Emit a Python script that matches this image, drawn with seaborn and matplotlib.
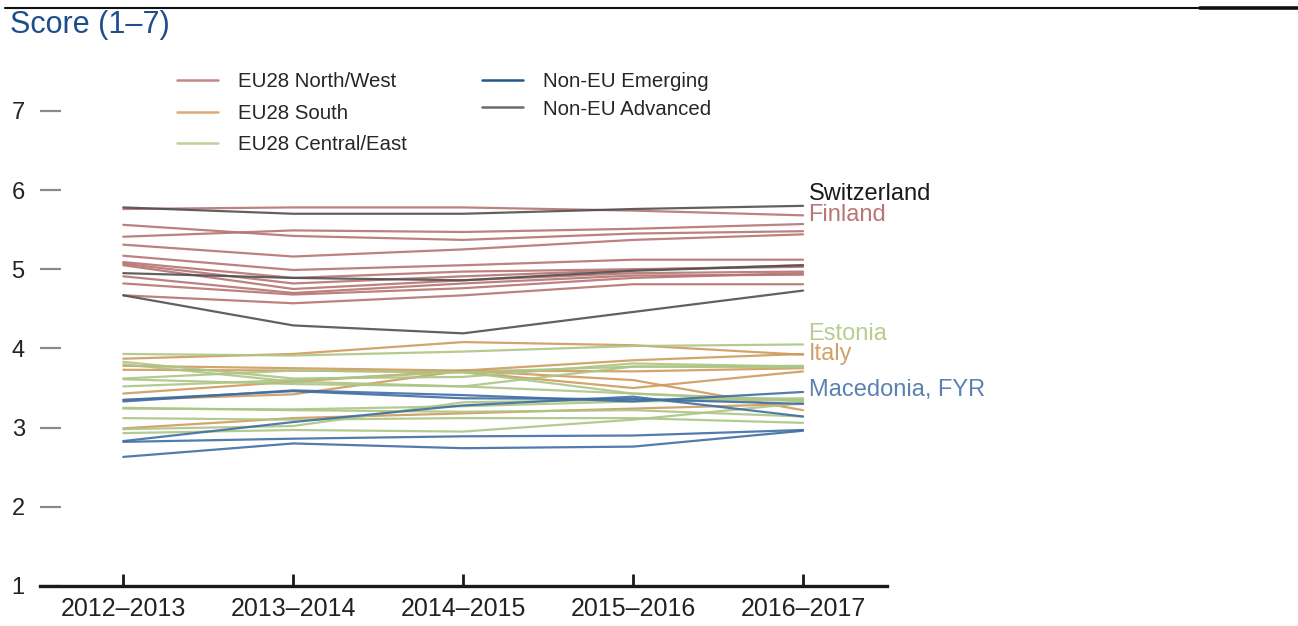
import pandas as pd
import numpy as np
import matplotlib
matplotlib.use("Agg")
import matplotlib.pyplot as plt
import seaborn as sns
from matplotlib.lines import Line2D

# periods on the x axis
periods = ["2012–2013", "2013–2014", "2014–2015", "2015–2016", "2016–2017"]

# scores, one row per country
nw_scores = [
    [5.76, 5.78, 5.78, 5.74, 5.68],   # Finland
    [5.56, 5.42, 5.37, 5.45, 5.48],
    [5.41, 5.49, 5.47, 5.51, 5.57],
    [5.31, 5.16, 5.25, 5.37, 5.44],
    [5.17, 4.99, 5.05, 5.12, 5.12],
    [5.09, 4.89, 4.97, 5.00, 5.03],
    [5.07, 4.82, 4.91, 4.99, 5.05],
    [5.05, 4.75, 4.86, 4.95, 4.97],
    [4.91, 4.70, 4.82, 4.92, 4.93],
    [4.82, 4.68, 4.76, 4.89, 4.95],
    [4.67, 4.57, 4.67, 4.81, 4.81],
]
south_scores = [
    [3.87, 3.93, 4.08, 4.04, 3.92],
    [3.43, 3.58, 3.72, 3.85, 3.93],   # Italy
    [3.78, 3.75, 3.72, 3.71, 3.75],
    [3.73, 3.72, 3.70, 3.50, 3.71],
    [3.35, 3.42, 3.72, 3.60, 3.22],
    [2.99, 3.12, 3.18, 3.24, 3.30],
]
ce_scores = [
    [3.93, 3.91, 3.96, 4.03, 4.05],   # Estonia
    [3.83, 3.62, 3.64, 3.81, 3.77],
    [3.80, 3.58, 3.52, 3.77, 3.76],
    [3.61, 3.55, 3.52, 3.43, 3.35],
    [3.52, 3.60, 3.70, 3.77, 3.78],
    [3.24, 3.23, 3.27, 3.33, 3.35],
    [3.12, 3.10, 3.12, 3.12, 3.06],
    [2.98, 3.02, 3.32, 3.35, 3.37],
    [2.93, 2.97, 2.95, 3.10, 3.31],
    [3.25, 3.22, 3.20, 3.22, 3.14],
    [3.62, 3.72, 3.70, 3.43, 3.33],
]
emerging_scores = [
    [3.33, 3.47, 3.41, 3.33, 3.45],   # Macedonia, FYR
    [3.35, 3.46, 3.37, 3.36, 3.30],
    [2.83, 3.07, 3.28, 3.39, 3.14],
    [2.82, 2.86, 2.89, 2.90, 2.97],
    [2.63, 2.80, 2.74, 2.76, 2.96],
]
advanced_scores = [
    [5.78, 5.70, 5.70, 5.76, 5.80],   # Switzerland
    [4.95, 4.89, 4.86, 4.98, 5.05],
    [4.67, 4.29, 4.19, 4.46, 4.73],
]

groups = ["EU28 North/West", "EU28 South", "EU28 Central/East",
          "Non-EU Emerging", "Non-EU Advanced"]
line_colors = ["#b57472", "#cf9a5c", "#adc585", "#3f6ea3", "#505050"]
legend_colors = ["#c08886", "#d8ab77", "#bcd29a", "#24578f", "#6b6b6b"]

# labelled countries: (name, group, row, y nudge, text colour)
labelled = [
    ("Switzerland", 4, 0, 0.15, "#1a1a1a"),
    ("Finland", 0, 0, 0.0, "#b87674"),
    ("Estonia", 2, 0, 0.13, "#b8cd8f"),
    ("Italy", 1, 1, 0.0, "#d3a06a"),
    ("Macedonia, FYR", 3, 0, 0.02, "#5b82b3"),
]

all_scores = [nw_scores, south_scores, ce_scores, emerging_scores, advanced_scores]
rows = []
for g, scores in zip(groups, all_scores):
    for i, s in enumerate(scores):
        for j, v in enumerate(s):
            rows.append({"group": g, "country": f"{g}-{i}", "x": j, "score": v})
df = pd.DataFrame(rows)

sns.set_style("white")
plt.rcParams["font.family"] = ["Liberation Sans", "DejaVu Sans"]

fig = plt.figure(figsize=(12.98, 6.26), dpi=100)
ax = fig.add_axes([40 / 1298, 40 / 626, 847 / 1298, 546 / 626])

sns.lineplot(data=df, x="x", y="score", hue="group", units="country",
             estimator=None, palette=dict(zip(groups, line_colors)),
             hue_order=groups, linewidth=1.6, alpha=0.9, legend=False, ax=ax)

ax.set_xlim(-0.49, 4.494)
ax.set_ylim(1, 7 + 546 / 79.2 - 6)
ax.set_xticks(range(len(periods)))
ax.set_xticklabels(periods, fontsize=18, color="#222222")
ax.set_yticks(range(1, 8))
ax.set_yticklabels([str(v) for v in range(1, 8)], fontsize=17, color="#222222")
ax.set_xlabel("")
ax.set_ylabel("")
for side in ["left", "right", "top"]:
    ax.spines[side].set_visible(False)
ax.spines["bottom"].set_linewidth(2.4)
ax.spines["bottom"].set_color("#1a1a1a")
ax.tick_params(axis="x", bottom=True, direction="in", length=9, width=2,
               color="#1a1a1a", pad=8)
ax.tick_params(axis="y", left=True, direction="in", length=15, width=1.6,
               color="#8a8a8a", pad=11)

# end labels
for name, gi, ri, nudge, col in labelled:
    y_end = all_scores[gi][ri][-1] + nudge
    ax.annotate(name, (4, y_end), xytext=(4, 0), textcoords="offset points",
                va="center", ha="left", fontsize=17, color=col)

# legend in two columns
h1 = [Line2D([], [], color=c, lw=1.8) for c in legend_colors[:3]]
leg1 = ax.legend(h1, groups[:3], loc="upper left", bbox_to_anchor=(0.14, 0.975),
                 frameon=False, fontsize=14.7, handlelength=2.0, handletextpad=1.0,
                 labelspacing=0.62)
ax.add_artist(leg1)
h2 = [Line2D([], [], color=c, lw=1.8) for c in legend_colors[3:]]
ax.legend(h2, groups[3:], loc="upper left", bbox_to_anchor=(0.5, 0.975),
          frameon=False, fontsize=14.7, handlelength=2.0, handletextpad=1.0,
          labelspacing=0.42)

fig.text(10 / 1298, 1 - 25 / 626, "Score (1–7)", fontsize=22,
         color="#1f4e8c", va="center", ha="left")
fig.add_artist(Line2D([5 / 1298, 1200 / 1298], [1 - 8 / 626] * 2, color="#111111", lw=1.5))
fig.add_artist(Line2D([1200 / 1298, 1.0], [1 - 8 / 626] * 2, color="#111111", lw=2.6))

fig.savefig("out.png", dpi=100)
